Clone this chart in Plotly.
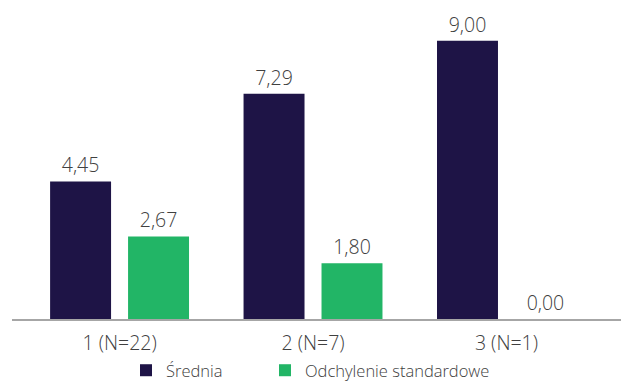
import plotly.graph_objects as go

categories = ["1 (N=22)", "2 (N=7)", "3 (N=1)"]
srednia = [4.45, 7.29, 9.00]
odchylenie = [2.67, 1.80, 0.00]
series_names = ["Średnia", "Odchylenie standardowe"]

def fmt(v):
    return f"{v:.2f}".replace(".", ",")

FONT = "Open Sans"
TXT = "#404040"

fig = go.Figure()
fig.add_trace(go.Bar(x=categories, y=srednia, name=series_names[0],
                     marker=dict(color="#1e1446", line_width=0),
                     text=[fmt(v) for v in srednia], textposition="outside",
                     textfont=dict(size=19.5, color=TXT, family=FONT, weight=300),
                     cliponaxis=False, legend="legend"))
fig.add_trace(go.Bar(x=categories, y=odchylenie, name=series_names[1],
                     marker=dict(color="#22b566", line_width=0),
                     text=[fmt(v) for v in odchylenie], textposition="outside",
                     textfont=dict(size=19.5, color=TXT, family=FONT, weight=300),
                     cliponaxis=False, legend="legend2"))

leg_common = dict(xref="container", yref="container", xanchor="left",
                  orientation="h",
                  y=-5 / 388, yanchor="bottom", bgcolor="rgba(0,0,0,0)",
                  font=dict(size=16.5, color=TXT, family=FONT, weight=300))

fig.update_layout(
    width=621, height=388,
    margin=dict(l=12, r=0, t=0, b=69, autoexpand=False),
    paper_bgcolor="white", plot_bgcolor="white",
    barmode="group", bargap=0.194, bargroupgap=0.218,
    font=dict(family=FONT, color=TXT, weight=300),
    xaxis=dict(range=[-0.556, 2.592], showline=True, linecolor="#a6a6a6", linewidth=2,
               showgrid=False, zeroline=False, ticks="", ticklabelstandoff=6,
               tickangle=0, automargin=False,
               tickfont=dict(size=19.5, color=TXT, family=FONT, weight=300)),
    yaxis=dict(range=[0, 10.32], visible=False, showgrid=False, zeroline=False,
               automargin=False),
    showlegend=True,
    legend=dict(x=126 / 621, **leg_common),
    legend2=dict(x=265 / 621, **leg_common),
)

fig.write_html("out.html")
